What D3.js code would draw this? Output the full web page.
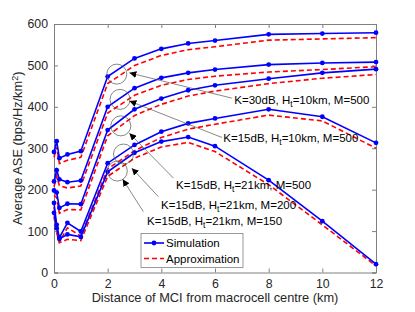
<!DOCTYPE html>
<html><head><meta charset="utf-8">
<script src="https://cdn.jsdelivr.net/npm/d3@7"></script>
<style>html,body{margin:0;padding:0;background:#fff;}svg{display:block;font-family:"Liberation Sans",Arial,sans-serif;}</style>
</head><body><svg id="c" width="415" height="312"></svg>
<script>
const distances = [0,0.1,0.2,0.5,1,2,3,4,5,6,8,10,12];
const simK30H10M500 = [291,317,276,285,293,473,517,540,553,560,575,577,579];
const simK15H10M500 = [220,247,225,218,222,400,445,470,482,490,502,506,508];
const simK15H21M500 = [198,193,156,166,165,344,394,420,440,452,468,482,491];
const simK15H21M200 = [168,115,84,120,99,264,308,340,360,372,394,376,313];
const simK15H21M150 = [144,107,81,92,86,243,289,316,327,305,223,124,20];
const apxK30H10M500 = [278,303,263,271,278,456,500,524,538,545,561,564,567];
const apxK15H10M500 = [207,233,210,204,209,385,428,452,466,474,484,490,497];
const apxK15H21M500 = [186,181,143,152,151,330,379,406,426,438,456,469,478];
const apxK15H21M200 = [158,104,74,108,88,250,294,326,346,358,380,366,300];
const apxK15H21M150 = [135,96,72,80,77,232,276,303,314,292,212,115,16];
const xTicks = [0,2,4,6,8,10,12];
const yTicks = [0,100,200,300,400,500,600];
const labelK = ["K=30dB, H","K=15dB, H","K=15dB, H","K=15dB, H","K=15dB, H"];
const labelRest = ["=10km, M=500","=10km, M=500","=21km, M=500","=21km, M=200","=21km, M=150"];
// annotation anchors in data units
const circX = [2.34,2.46,2.49,2.59,2.36], circY = [479,418,354,286,245];
const tipX = [2.81,2.81,2.81,2.90,2.56], tipY = [482,414,336,252,225];
const tailX = [6.63,6.26,4.45,3.89,3.33], tailY = [421,326,228,183,147];
const textX = [6.72,6.31,4.55,3.99,3.47], textY = [406,315,202,153,115];

const svg = d3.select("#c");
const L=54, R=376, T=24, B=272.5;
const x = d3.scaleLinear().domain([0,12]).range([L,R]);
const y = d3.scaleLinear().domain([0,600]).range([B,T]);
const axCol="#808080", txtCol="#262626";

const g = svg.append("g");
const xa = g.append("g").attr("transform",`translate(0,${B})`).call(d3.axisBottom(x).tickValues(xTicks).tickSize(-4).tickPadding(7));
const xt = g.append("g").attr("transform",`translate(0,${T})`).call(d3.axisTop(x).tickValues(xTicks).tickSize(-4).tickFormat(""));
const ya = g.append("g").attr("transform",`translate(${L},0)`).call(d3.axisLeft(y).tickValues(yTicks).tickSize(-4).tickPadding(6));
const yr = g.append("g").attr("transform",`translate(${R},0)`).call(d3.axisRight(y).tickValues(yTicks).tickSize(-4).tickFormat(""));
[xa,xt,ya,yr].forEach(a=>{a.selectAll("path,line").attr("stroke",axCol);a.selectAll("text").attr("fill",txtCol).style("font-size","12.3px").style("font-family","Liberation Sans, Arial, sans-serif");});

const sims=[simK30H10M500,simK15H10M500,simK15H21M500,simK15H21M200,simK15H21M150];
const apxs=[apxK30H10M500,apxK15H10M500,apxK15H21M500,apxK15H21M200,apxK15H21M150];
const line=d3.line().x((d,i)=>x(distances[i])).y(d=>y(d));
apxs.forEach(a=>svg.append("path").attr("d",line(a)).attr("fill","none").attr("stroke","#ff0000").attr("stroke-width",1.6).attr("stroke-dasharray","5,3"));
sims.forEach(s=>{
  svg.append("path").attr("d",line(s)).attr("fill","none").attr("stroke","#0000ff").attr("stroke-width",1.6);
  svg.append("g").selectAll("circle").data(s).join("circle").attr("cx",(d,i)=>x(distances[i])).attr("cy",d=>y(d)).attr("r",2.4).attr("fill","#0000ff");
});

const defs=svg.append("defs");
defs.append("marker").attr("id","ah").attr("viewBox","0 0 10 10").attr("refX",10).attr("refY",5).attr("markerWidth",7).attr("markerHeight",7).attr("orient","auto-start-reverse").attr("markerUnits","userSpaceOnUse")
 .append("path").attr("d","M0,0 L10,5 L0,10 z").attr("fill","#000");
for(let i=0;i<5;i++){
  svg.append("circle").attr("cx",x(circX[i])).attr("cy",y(circY[i])).attr("r",10).attr("fill","none").attr("stroke","#555").attr("stroke-width",0.7);
  svg.append("line").attr("x1",x(tailX[i])).attr("y1",y(tailY[i])).attr("x2",x(tipX[i])).attr("y2",y(tipY[i])).attr("stroke","#555").attr("stroke-width",0.7).attr("marker-end","url(#ah)");
  const t=svg.append("text").attr("x",x(textX[i])).attr("y",y(textY[i])).attr("fill","#000").style("font-size","11.5px");
  t.append("tspan").text(labelK[i]);
  t.append("tspan").attr("dy",3).style("font-size","8.5px").text("t");
  t.append("tspan").attr("dy",-3).text(labelRest[i]);
}

const lg=svg.append("g");
lg.append("rect").attr("x",141).attr("y",233.5).attr("width",102).attr("height",34).attr("fill","#fff").attr("stroke","#808080").attr("stroke-width",0.8);
lg.append("line").attr("x1",144).attr("x2",164).attr("y1",243).attr("y2",243).attr("stroke","#0000ff").attr("stroke-width",1.6);
lg.append("circle").attr("cx",154).attr("cy",243).attr("r",2.4).attr("fill","#0000ff");
lg.append("line").attr("x1",144).attr("x2",164).attr("y1",258.5).attr("y2",258.5).attr("stroke","#ff0000").attr("stroke-width",1.6).attr("stroke-dasharray","5,3");
lg.append("text").attr("x",166).attr("y",247).style("font-size","11.5px").attr("fill","#000").text("Simulation");
lg.append("text").attr("x",166).attr("y",262.5).style("font-size","11.5px").attr("fill","#000").text("Approximation");

svg.append("text").attr("x",(L+R)/2).attr("y",302).attr("text-anchor","middle").style("font-size","12.8px").attr("fill",txtCol).text("Distance of MCI from macrocell centre (km)");
const yl=svg.append("text").attr("transform",`translate(22,${(T+B)/2}) rotate(-90)`).attr("text-anchor","middle").style("font-size","12.8px").attr("fill",txtCol);
yl.append("tspan").text("Average ASE (bps/Hz/km");
yl.append("tspan").attr("dy",-4).style("font-size","9px").text("2");
yl.append("tspan").attr("dy",4).text(")");
</script></body></html>
